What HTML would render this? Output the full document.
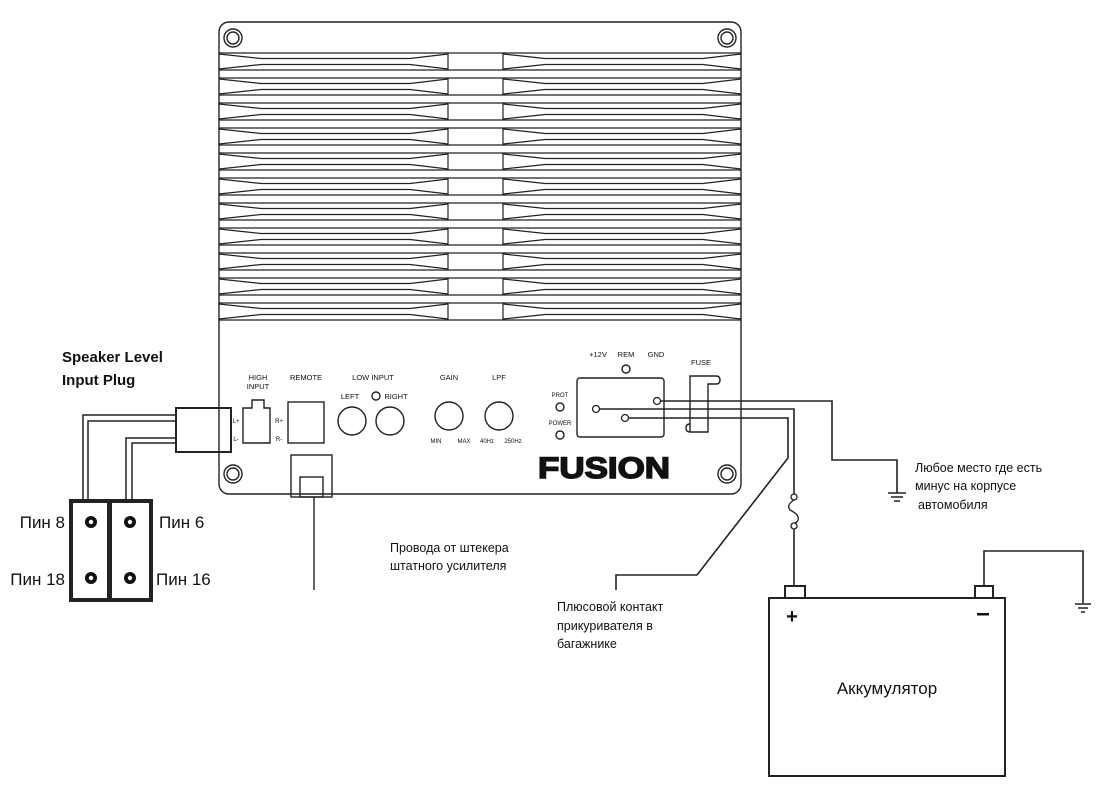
<!DOCTYPE html>
<html><head><meta charset="utf-8"><style>
html,body{margin:0;padding:0;background:#fff;}
svg{display:block;}
text{font-family:"Liberation Sans","DejaVu Sans",sans-serif;fill:#111;}
</style></head><body>
<svg width="1109" height="806" viewBox="0 0 1109 806" xmlns="http://www.w3.org/2000/svg">
<defs>
<g id="row" fill="none" stroke="#222" stroke-width="1.2">
<line x1="219" y1="0" x2="741" y2="0"/><line x1="219" y1="17" x2="741" y2="17"/>
<line x1="448" y1="0" x2="448" y2="17"/><line x1="503" y1="0" x2="503" y2="17"/>
<path d="M219 1 L261 5.5 L410 5.5 L448 1 M219 16 L261 11.5 L410 11.5 L448 16"/>
<path d="M503 1 L545 5.5 L703 5.5 L741 1 M503 16 L545 11.5 L703 11.5 L741 16"/>
</g>
</defs>
<g fill="none" stroke="#222" stroke-width="1.4">
<rect x="219" y="22" width="522" height="472" rx="10"/>
<circle cx="233" cy="38" r="9"/><circle cx="233" cy="38" r="6"/>
<circle cx="727" cy="38" r="9"/><circle cx="727" cy="38" r="6"/>
<circle cx="233" cy="474" r="9"/><circle cx="233" cy="474" r="6"/>
<circle cx="727" cy="474" r="9"/><circle cx="727" cy="474" r="6"/>
</g>
<use href="#row" y="53"/><use href="#row" y="78"/><use href="#row" y="103"/><use href="#row" y="128"/>
<use href="#row" y="153"/><use href="#row" y="178"/><use href="#row" y="203"/><use href="#row" y="228"/>
<use href="#row" y="253"/><use href="#row" y="278"/><use href="#row" y="303"/>
<g fill="none" stroke="#222" stroke-width="1.4">
<path d="M252 400 H264 V408 H270 V443 H243 V408 H252 Z"/>
<rect x="288" y="402" width="36" height="41"/>
<circle cx="376" cy="396" r="4"/>
<circle cx="352" cy="421" r="14"/><circle cx="390" cy="421" r="14"/>
<circle cx="449" cy="416" r="14"/><circle cx="499" cy="416" r="14"/>
<circle cx="560" cy="407" r="4"/><circle cx="560" cy="435" r="4"/>
<circle cx="626" cy="369" r="4"/>
<rect x="577" y="378" width="87" height="59" rx="3"/>
<path d="M690 432 V376 H716 Q720 376 720 380 Q720 384 716 384 H708 V432 H690 Q686 432 686 428 Q686 424 690 424"/>
<rect x="291" y="455" width="41" height="42"/><rect x="300" y="477" width="23" height="20"/>
<line x1="314" y1="497" x2="314" y2="590"/>
</g>
<g font-size="7.5" text-anchor="middle">
<text x="258" y="380">HIGH</text><text x="258" y="389">INPUT</text>
<text x="306" y="380">REMOTE</text><text x="373" y="380">LOW INPUT</text>
<text x="350" y="399">LEFT</text><text x="396" y="399">RIGHT</text>
<text x="449" y="380">GAIN</text><text x="499" y="380">LPF</text>
<text x="436" y="443" font-size="6">MIN</text><text x="464" y="443" font-size="6">MAX</text>
<text x="487" y="443" font-size="6">40Hz</text><text x="513" y="443" font-size="6">250Hz</text>
<text x="560" y="397" font-size="6">PROT</text><text x="560" y="425" font-size="6">POWER</text>
<text x="598" y="357">+12V</text><text x="626" y="357">REM</text><text x="656" y="357">GND</text>
<text x="701" y="365">FUSE</text>
<text x="236" y="423" font-size="6">L+</text><text x="236" y="441" font-size="6">L-</text>
<text x="279" y="423" font-size="6">R+</text><text x="279" y="441" font-size="6">R-</text>
</g>
<text x="604" y="478" font-size="30" font-weight="bold" text-anchor="middle" stroke="#111" stroke-width="1.5" textLength="132" lengthAdjust="spacingAndGlyphs">FUSION</text>
<g fill="#fff" stroke="#222" stroke-width="1.3">
<circle cx="596" cy="409" r="3.5"/><circle cx="625" cy="418" r="3.5"/><circle cx="657" cy="401" r="3.5"/>
</g>
<g fill="none" stroke="#222" stroke-width="1.6">
<path d="M660 401 H832 V460 H897 V493"/>
<path d="M888 493 H906 M891 497 H903 M894 501 H900"/>
<path d="M599 409 H794 V494"/>
<circle cx="794" cy="497" r="3" stroke-width="1.3"/><circle cx="794" cy="526" r="3" stroke-width="1.3"/>
<path d="M794 500 Q786 505 790 510 Q800 515 798 520 Q797 523 794 523" stroke-width="1.3"/>
<path d="M794 529 V586"/>
<path d="M628 418 H788 V458 L697 575 H616 V590"/>
<rect x="769" y="598" width="236" height="178" stroke-width="2"/>
<rect x="785" y="586" width="20" height="12" stroke-width="2"/>
<rect x="975" y="586" width="18" height="12" stroke-width="2"/>
<path d="M984 586 V551 H1083 V603"/>
<path d="M1075 604 H1091 M1078 608 H1088 M1081 612 H1085"/>
<path d="M176 408 H231 V452 H176 Z" stroke-width="2"/>
<path d="M176 415 H83 V500 M176 421 H88 V500 M176 438 H126 V500 M176 443 H132 V500" stroke-width="1.5"/>
<rect x="71" y="501" width="38" height="99" stroke-width="4"/>
<rect x="110" y="501" width="41" height="99" stroke-width="4"/>
</g>
<g fill="#111"><circle cx="91" cy="522" r="6"/><circle cx="130" cy="522" r="6"/><circle cx="91" cy="578" r="6"/><circle cx="130" cy="578" r="6"/></g>
<g fill="#fff"><circle cx="91" cy="522" r="2.2"/><circle cx="130" cy="522" r="2.2"/><circle cx="91" cy="578" r="2.2"/><circle cx="130" cy="578" r="2.2"/></g>
<g font-size="17">
<text x="65" y="528" text-anchor="end">Пин 8</text><text x="65" y="585" text-anchor="end">Пин 18</text>
<text x="159" y="528">Пин 6</text><text x="156" y="585">Пин 16</text>
</g>
<g font-size="15" font-weight="bold"><text x="62" y="362">Speaker Level</text><text x="62" y="385">Input Plug</text></g>
<g font-size="12.5">
<text x="390" y="552">Провода от штекера</text><text x="390" y="570">штатного усилителя</text>
<text x="557" y="611">Плюсовой контакт</text><text x="557" y="630">прикуривателя в</text><text x="557" y="648">багажнике</text>
<text x="915" y="472">Любое место где есть</text><text x="915" y="490">минус на корпусе</text><text x="918" y="509">автомобиля</text>
</g>
<text x="792" y="623" font-size="20" font-weight="bold" text-anchor="middle">+</text>
<rect x="977" y="613" width="12" height="2.5" fill="#111"/>
<text x="887" y="694" font-size="17" text-anchor="middle">Аккумулятор</text>
</svg>
</body></html>
